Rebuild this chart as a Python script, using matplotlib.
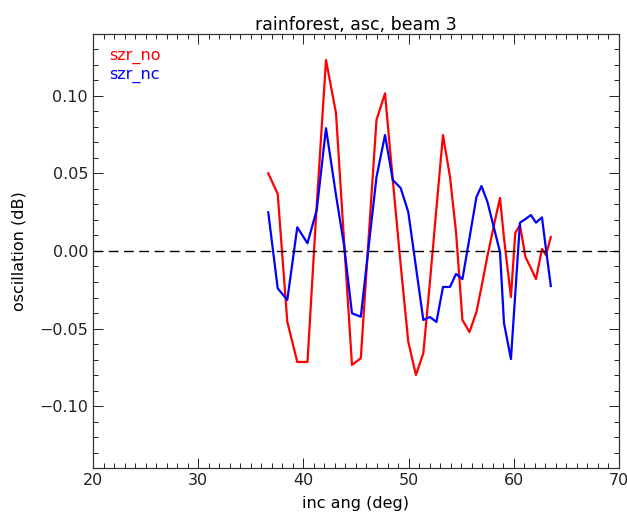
import matplotlib
matplotlib.use("Agg")
import matplotlib.pyplot as plt
from matplotlib.ticker import MultipleLocator

# incidence angle (deg)
inc_ang = [36.66, 37.56, 38.47, 39.42, 40.39, 41.27, 42.15, 43.10, 43.86, 44.62,
           45.46, 46.19, 46.95, 47.76, 48.50, 49.25, 49.97, 50.70, 51.40, 52.03,
           52.65, 53.27, 53.94, 54.51, 55.12, 55.79, 56.45, 56.93, 57.50, 58.12,
           58.69, 59.07, 59.73, 60.14, 60.59, 61.11, 61.63, 62.11, 62.68, 63.06,
           63.52]

szr_no = [0.0501, 0.0368, -0.0456, -0.0716, -0.0716, 0.0297, 0.1232, 0.0890, 0.0071, -0.0735,
          -0.0692, 0.0071, 0.0845, 0.1017, 0.0458, -0.0090, -0.0585, -0.0800, -0.0660, -0.0200,
          0.0277, 0.0748, 0.0477, 0.0123, -0.0445, -0.0523, -0.0394, -0.0232, -0.0032, 0.0168,
          0.0342, 0.0084, -0.0297, 0.0116, 0.0168, -0.0039, -0.0110, -0.0181, 0.0013, -0.0026,
          0.0090]

szr_nc = [0.0250, -0.0241, -0.0316, 0.0153, 0.0050, 0.0265, 0.0792, 0.0361, 0.0039, -0.0402,
          -0.0424, 0.0019, 0.0477, 0.0748, 0.0458, 0.0406, 0.0252, -0.0103, -0.0445, -0.0426,
          -0.0458, -0.0232, -0.0232, -0.0148, -0.0181, 0.0084, 0.0348, 0.0419, 0.0316, 0.0148,
          -0.0006, -0.0465, -0.0697, -0.0277, 0.0183, 0.0206, 0.0232, 0.0183, 0.0217, 0.0013,
          -0.0226]

FONT = 11.5

fig = plt.figure(figsize=(6.27, 5.18), dpi=100)
ax = fig.add_axes([0.1483, 0.0965, 0.8389, 0.8379])

ax.plot(inc_ang, szr_no, color="#FF0000", lw=1.6)
ax.plot(inc_ang, szr_nc, color="#0000FF", lw=1.6)
ax.axhline(0, color="black", lw=1.0, dashes=(7, 4))

ax.set_xlim(20, 70)
ax.set_ylim(-0.14, 0.14)
ax.xaxis.set_major_locator(MultipleLocator(10))
ax.xaxis.set_minor_locator(MultipleLocator(1))
ax.yaxis.set_major_locator(MultipleLocator(0.05))
ax.yaxis.set_minor_locator(MultipleLocator(0.01))
ax.yaxis.set_major_formatter(plt.FuncFormatter(lambda v, p: f"{v:.2f}".replace("-", "\u2212")))
ax.tick_params(which="both", direction="in", top=True, right=True, width=0.7,
               labelsize=FONT, colors="#222222")
ax.tick_params(which="major", length=7)
ax.tick_params(which="minor", length=3.5)
for s in ax.spines.values():
    s.set_linewidth(0.9)
    s.set_color("#333333")

ax.set_title("rainforest, asc, beam 3", fontsize=FONT + 1, pad=2)
ax.set_xlabel("inc ang (deg)", fontsize=FONT, labelpad=6)
ax.set_ylabel("oscillation (dB)", fontsize=FONT, labelpad=9)

ax.text(0.03, 0.965, "szr_no", color="#FF0000", fontsize=FONT, transform=ax.transAxes, va="top")
ax.text(0.03, 0.922, "szr_nc", color="#0000FF", fontsize=FONT, transform=ax.transAxes, va="top")

fig.savefig("out.png", dpi=100)
